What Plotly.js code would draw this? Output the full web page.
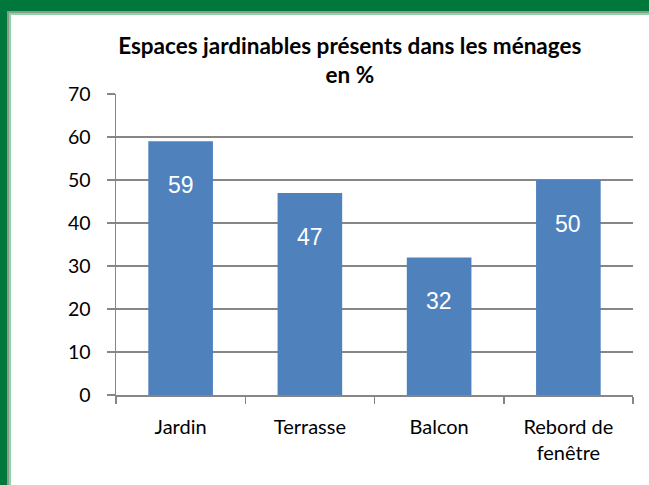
<!DOCTYPE html>
<html><head><meta charset="utf-8">
<script src="https://cdn.plot.ly/plotly-3.0.1.min.js"></script>
<style>
html,body{margin:0;padding:0;background:#fff;}
#frame{position:absolute;left:0;top:0;width:649px;height:485px;background:#00783c;}
#l1{position:absolute;left:7px;top:11px;width:642px;height:474px;background:#8a9a90;}
#l2{position:absolute;left:9px;top:13px;width:640px;height:472px;background:#8fd3a8;}
#chart{position:absolute;left:11px;top:15px;width:638px;height:470px;background:#fff;}
</style></head>
<body>
<div id="frame"></div><div id="l1"></div><div id="l2"></div>
<div id="chart"></div>
<script>
const categories = ["Jardin", "Terrasse", "Balcon", "Rebord de<br>fenêtre"];
const values = [59, 47, 32, 50];
const yTicks = [0, 10, 20, 30, 40, 50, 60, 70];

const trace = {
  type: "bar", x: categories, y: values,
  marker: {color: "#4f81bd", line: {color: "#4f81bd", width: 0}},
  hoverinfo: "none"
};
const annotations = values.map((v, i) => ({
  x: categories[i], y: v, xref: "x", yref: "y", text: String(v),
  showarrow: false, yshift: -44,
  font: {family: "Liberation Sans, Arial, sans-serif", size: 23, color: "#ffffff"}
}));
const layout = {
  width: 638, height: 470,
  margin: {l: 105, r: 16, t: 79, b: 90},
  paper_bgcolor: "#ffffff", plot_bgcolor: "#ffffff",
  bargap: 0.5,
  showlegend: false,
  title: {
    text: "<b>Espaces jardinables présents dans les ménages<br>en %</b>",
    font: {family: "Lato, Open Sans, sans-serif", size: 22.5, color: "#000"},
    x: 0.531, xanchor: "center", y: 0.917, yanchor: "top"
  },
  font: {family: "Lato, Open Sans, sans-serif", size: 20, color: "#000"},
  xaxis: {
    type: "category", showgrid: false, showline: true, linecolor: "#868686", linewidth: 1.5,
    ticks: "outside", tickson: "boundaries", ticklen: 7, tickcolor: "#868686", tickwidth: 1.5,
    tickfont: {family: "Lato, Open Sans, sans-serif", size: 20, color: "#000"},
    ticklabelstandoff: 13
  },
  yaxis: {
    range: [0, 70], tickvals: yTicks, ticktext: yTicks.map(String),
    showgrid: true, gridcolor: "#868686", gridwidth: 1.5,
    showline: true, linecolor: "#868686", linewidth: 1.5, zeroline: false,
    ticks: "outside", ticklen: 8, tickcolor: "#868686", tickwidth: 1.5,
    tickfont: {family: "Lato, Open Sans, sans-serif", size: 19.5, color: "#000"},
    ticklabelstandoff: 12
  },
  annotations: annotations
};
Plotly.newPlot("chart", [trace], layout, {displayModeBar: false, staticPlot: true});
</script>
</body></html>
